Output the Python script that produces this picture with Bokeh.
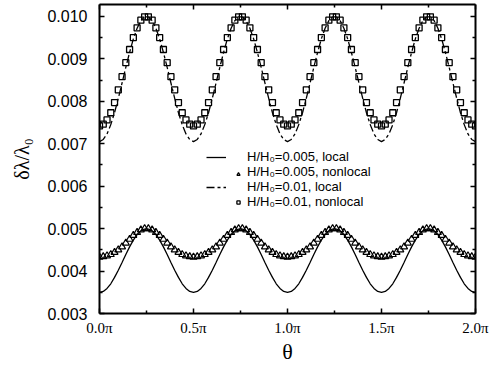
from bokeh.plotting import figure
from bokeh.models import (Range1d, LinearAxis, FixedTicker, Legend, LegendItem,
                          PrintfTickFormatter, CustomJSTickFormatter)
from bokeh.embed import file_html
from bokeh.resources import INLINE

# theta in units of pi (sample grid, step 0.02 pi)
theta = [round(i * 0.02, 2) for i in range(101)]

# H/H0 = 0.005, local (solid line)
local_005 = [
    0.00350, 0.00352, 0.00359, 0.00370, 0.00385, 0.00402, 0.00420, 0.00439, 0.00457, 0.00473, 0.00486, 0.00495, 0.00499,
    0.00499, 0.00495, 0.00486, 0.00473, 0.00457, 0.00439, 0.00420, 0.00402, 0.00385, 0.00370, 0.00359, 0.00352,
    0.00350, 0.00352, 0.00359, 0.00370, 0.00385, 0.00402, 0.00420, 0.00439, 0.00457, 0.00473, 0.00486, 0.00495, 0.00499,
    0.00499, 0.00495, 0.00486, 0.00473, 0.00457, 0.00439, 0.00420, 0.00402, 0.00385, 0.00370, 0.00359, 0.00352,
    0.00350, 0.00352, 0.00359, 0.00370, 0.00385, 0.00402, 0.00420, 0.00439, 0.00457, 0.00473, 0.00486, 0.00495, 0.00499,
    0.00499, 0.00495, 0.00486, 0.00473, 0.00457, 0.00439, 0.00420, 0.00402, 0.00385, 0.00370, 0.00359, 0.00352,
    0.00350, 0.00352, 0.00359, 0.00370, 0.00385, 0.00402, 0.00420, 0.00439, 0.00457, 0.00473, 0.00486, 0.00495, 0.00499,
    0.00499, 0.00495, 0.00486, 0.00473, 0.00457, 0.00439, 0.00420, 0.00402, 0.00385, 0.00370, 0.00359, 0.00352,
    0.00350,
]

# H/H0 = 0.005, nonlocal (open triangles)
nonlocal_005 = [
    0.00433, 0.00434, 0.00436, 0.00439, 0.00444, 0.00450, 0.00457, 0.00466, 0.00475, 0.00484, 0.00491, 0.00497, 0.00500,
    0.00500, 0.00497, 0.00491, 0.00484, 0.00475, 0.00466, 0.00457, 0.00450, 0.00444, 0.00439, 0.00436, 0.00434,
    0.00433, 0.00434, 0.00436, 0.00439, 0.00444, 0.00450, 0.00457, 0.00466, 0.00475, 0.00484, 0.00491, 0.00497, 0.00500,
    0.00500, 0.00497, 0.00491, 0.00484, 0.00475, 0.00466, 0.00457, 0.00450, 0.00444, 0.00439, 0.00436, 0.00434,
    0.00433, 0.00434, 0.00436, 0.00439, 0.00444, 0.00450, 0.00457, 0.00466, 0.00475, 0.00484, 0.00491, 0.00497, 0.00500,
    0.00500, 0.00497, 0.00491, 0.00484, 0.00475, 0.00466, 0.00457, 0.00450, 0.00444, 0.00439, 0.00436, 0.00434,
    0.00433, 0.00434, 0.00436, 0.00439, 0.00444, 0.00450, 0.00457, 0.00466, 0.00475, 0.00484, 0.00491, 0.00497, 0.00500,
    0.00500, 0.00497, 0.00491, 0.00484, 0.00475, 0.00466, 0.00457, 0.00450, 0.00444, 0.00439, 0.00436, 0.00434,
    0.00433,
]

# H/H0 = 0.01, local (dash-dot line)
local_01 = [
    0.00705, 0.00710, 0.00723, 0.00745, 0.00773, 0.00807, 0.00843, 0.00880, 0.00915, 0.00947, 0.00972, 0.00990, 0.00999,
    0.00999, 0.00990, 0.00972, 0.00947, 0.00915, 0.00880, 0.00843, 0.00807, 0.00773, 0.00745, 0.00723, 0.00710,
    0.00705, 0.00710, 0.00723, 0.00745, 0.00773, 0.00807, 0.00843, 0.00880, 0.00915, 0.00947, 0.00972, 0.00990, 0.00999,
    0.00999, 0.00990, 0.00972, 0.00947, 0.00915, 0.00880, 0.00843, 0.00807, 0.00773, 0.00745, 0.00723, 0.00710,
    0.00705, 0.00710, 0.00723, 0.00745, 0.00773, 0.00807, 0.00843, 0.00880, 0.00915, 0.00947, 0.00972, 0.00990, 0.00999,
    0.00999, 0.00990, 0.00972, 0.00947, 0.00915, 0.00880, 0.00843, 0.00807, 0.00773, 0.00745, 0.00723, 0.00710,
    0.00705, 0.00710, 0.00723, 0.00745, 0.00773, 0.00807, 0.00843, 0.00880, 0.00915, 0.00947, 0.00972, 0.00990, 0.00999,
    0.00999, 0.00990, 0.00972, 0.00947, 0.00915, 0.00880, 0.00843, 0.00807, 0.00773, 0.00745, 0.00723, 0.00710,
    0.00705,
]

# H/H0 = 0.01, nonlocal (open squares)
nonlocal_01 = [
    0.00742, 0.00746, 0.00756, 0.00773, 0.00797, 0.00827, 0.00858, 0.00891, 0.00922, 0.00950, 0.00973, 0.00991, 0.00999,
    0.00999, 0.00991, 0.00973, 0.00950, 0.00922, 0.00891, 0.00858, 0.00827, 0.00797, 0.00773, 0.00756, 0.00746,
    0.00742, 0.00746, 0.00756, 0.00773, 0.00797, 0.00827, 0.00858, 0.00891, 0.00922, 0.00950, 0.00973, 0.00991, 0.00999,
    0.00999, 0.00991, 0.00973, 0.00950, 0.00922, 0.00891, 0.00858, 0.00827, 0.00797, 0.00773, 0.00756, 0.00746,
    0.00742, 0.00746, 0.00756, 0.00773, 0.00797, 0.00827, 0.00858, 0.00891, 0.00922, 0.00950, 0.00973, 0.00991, 0.00999,
    0.00999, 0.00991, 0.00973, 0.00950, 0.00922, 0.00891, 0.00858, 0.00827, 0.00797, 0.00773, 0.00756, 0.00746,
    0.00742, 0.00746, 0.00756, 0.00773, 0.00797, 0.00827, 0.00858, 0.00891, 0.00922, 0.00950, 0.00973, 0.00991, 0.00999,
    0.00999, 0.00991, 0.00973, 0.00950, 0.00922, 0.00891, 0.00858, 0.00827, 0.00797, 0.00773, 0.00756, 0.00746,
    0.00742,
]

x_ticks = [0.0, 0.5, 1.0, 1.5, 2.0]
x_minor = [0.25, 0.75, 1.25, 1.75]
y_ticks = [0.003, 0.004, 0.005, 0.006, 0.007, 0.008, 0.009, 0.010]
y_minor = [0.0035, 0.0045, 0.0055, 0.0065, 0.0075, 0.0085, 0.0095]
legend_labels = ["H/H\u2080=0.005, local", "H/H\u2080=0.005, nonlocal",
                 "H/H\u2080=0.01, local", "H/H\u2080=0.01, nonlocal"]

p = figure(width=490, height=366, output_backend="svg", toolbar_location=None,
           x_range=Range1d(0, 2), y_range=Range1d(0.003, 0.01028),
           min_border_left=99, min_border_right=15, min_border_top=4, min_border_bottom=53)
p.outline_line_color = None
p.xgrid.visible = False
p.ygrid.visible = False
p.background_fill_color = "white"
p.border_fill_color = "white"

xt = FixedTicker(ticks=x_ticks, minor_ticks=x_minor)
yt = FixedTicker(ticks=y_ticks, minor_ticks=y_minor)


def style(ax):
    ax.axis_line_width = 2
    ax.axis_line_color = "black"
    ax.major_tick_in = 5
    ax.major_tick_out = 0
    ax.minor_tick_in = 3
    ax.minor_tick_out = 0
    ax.major_tick_line_width = 1.5
    ax.minor_tick_line_width = 1.5
    ax.major_tick_line_color = "black"
    ax.minor_tick_line_color = "black"


xa = p.xaxis[0]
xa.ticker = xt
xa.formatter = CustomJSTickFormatter(code="return tick.toFixed(1) + '\u03c0';")
style(xa)
xa.major_label_text_font = "Liberation Serif"
xa.major_label_text_font_size = "15px"
xa.major_label_text_color = "black"
xa.major_label_standoff = 6
xa.axis_label = "\u03b8"
xa.axis_label_text_font = "Liberation Serif"
xa.axis_label_text_font_size = "22px"
xa.axis_label_text_font_style = "normal"
xa.axis_label_text_color = "black"
xa.axis_label_standoff = 0

ya = p.yaxis[0]
ya.ticker = yt
ya.formatter = PrintfTickFormatter(format="%.3f")
style(ya)
ya.major_label_text_font = "Liberation Sans"
ya.major_label_text_font_size = "16px"
ya.major_label_text_color = "black"
ya.major_label_standoff = 12
ya.axis_label = "\u03b4\u03bb/\u03bb\u2080"
ya.axis_label_text_font = "Liberation Serif"
ya.axis_label_text_font_size = "20px"
ya.axis_label_text_font_style = "normal"
ya.axis_label_text_color = "black"
ya.axis_label_standoff = 11

top = LinearAxis(ticker=xt, major_label_text_font_size="1px",
                 major_label_text_color=None, major_label_standoff=0)
style(top)
p.add_layout(top, "above")
right = LinearAxis(ticker=yt, major_label_text_font_size="1px",
                   major_label_text_color=None, major_label_standoff=0)
style(right)
p.add_layout(right, "right")

r1 = p.line(theta, local_005, line_color="black", line_width=1.3)
r2 = p.scatter(theta, nonlocal_005, marker="triangle", size=7, fill_color=None,
               line_color="black", line_width=1.2)
r3 = p.line(theta, local_01, line_color="black", line_width=1.3, line_dash="8 3 3 3")
r4 = p.scatter(theta, nonlocal_01, marker="square", size=6, fill_color=None,
               line_color="black", line_width=1.3)
dummy = p.line(x=[], y=[], line_alpha=0)

common = dict(padding=0, margin=0, spacing=0, glyph_height=14, label_height=14,
              label_text_font="Liberation Sans", label_text_font_size="13px",
              label_text_color="black", border_line_color=None,
              background_fill_alpha=0)

leg_lines = Legend(items=[LegendItem(label=legend_labels[0], renderers=[r1]),
                          LegendItem(label=legend_labels[1], renderers=[dummy]),
                          LegendItem(label=legend_labels[2], renderers=[r3]),
                          LegendItem(label=legend_labels[3], renderers=[dummy])],
                   location=(107, 104), glyph_width=20, label_standoff=21, **common)
leg_marks = Legend(items=[LegendItem(label=" ", renderers=[dummy]),
                          LegendItem(label=" ", renderers=[r2]),
                          LegendItem(label=" ", renderers=[dummy]),
                          LegendItem(label=" ", renderers=[r4])],
                   location=(135, 104), glyph_width=8, label_standoff=0, **common)
p.add_layout(leg_lines)
p.add_layout(leg_marks)

open("out.html", "w").write(file_html(p, INLINE))
